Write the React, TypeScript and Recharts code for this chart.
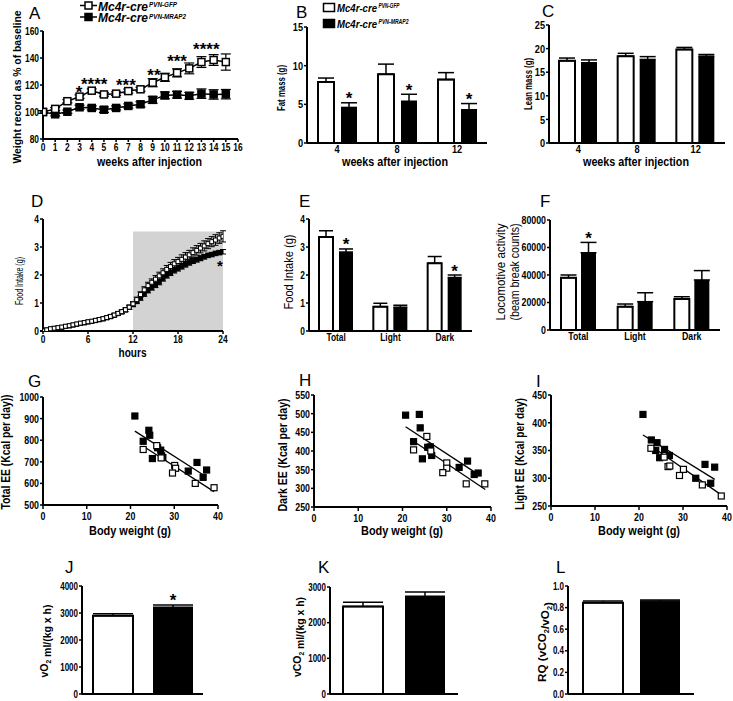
import React from 'react'
import {
  LineChart, Line, BarChart, Bar, ScatterChart, Scatter, XAxis, YAxis, ErrorBar,
  ReferenceArea, ReferenceLine, ReferenceDot,
} from 'recharts'

const SANS = '"Liberation Sans", Arial, sans-serif'

// ---- A: body weight (% of baseline)
const WEEKS = [0, 1, 2, 3, 4, 5, 6, 7, 8, 9, 10, 11, 12, 13, 14, 15]
const WEEK_TICKS = [0, 1, 2, 3, 4, 5, 6, 7, 8, 9, 10, 11, 12, 13, 14, 15, 16]
const WT_TICKS = [80, 100, 120, 140, 160]
const WT_GFP = [100, 102.3, 108, 111.4, 115.8, 113, 113.6, 115.5, 116.8, 121.7, 125.7, 129, 132.3, 137, 138.5, 137]
const WT_GFP_SEM = [1, 1, 1.2, 1.3, 1.3, 1.3, 1.3, 1.5, 1.5, 3, 3, 3, 4, 4, 4, 6]
const WT_MRAP2 = [100, 98.3, 100.2, 103.5, 103, 101.7, 103, 104.5, 105.7, 109, 112.3, 112.8, 112, 113.6, 113, 113.2]
const WT_MRAP2_SEM = [1, 1.2, 1.2, 1.5, 1.5, 2, 1.5, 1.5, 2, 2.5, 2.5, 2.5, 2.5, 3.5, 3.5, 3.5]
const WT_STARS = [
  { week: 2.95, y: 117.8, text: '*' },
  { week: 4.2, y: 123.7, text: '****' },
  { week: 6.8, y: 123, text: '***' },
  { week: 9.1, y: 130.4, text: '**' },
  { week: 11.0, y: 140.7, text: '***' },
  { week: 13.4, y: 149.6, text: '****' },
]

// ---- B / C: body composition
const WEEK_CATS = ['4', '8', '12']
const FAT_GFP = [7.9, 8.9, 8.2]
const FAT_GFP_SEM = [0.5, 1.3, 0.9]
const FAT_MRAP2 = [4.6, 5.4, 4.3]
const FAT_MRAP2_SEM = [0.6, 0.9, 0.8]
const FAT_SIG = ['*', '*', '*']
const LEAN_GFP = [17.4, 18.4, 19.8]
const LEAN_GFP_SEM = [0.6, 0.6, 0.45]
const LEAN_MRAP2 = [17.0, 17.7, 18.4]
const LEAN_MRAP2_SEM = [0.6, 0.6, 0.35]
const LEAN_SIG = ['', '', '']

// ---- D: cumulative food intake
const HOURS = [0, 0.5, 1, 1.5, 2, 2.5, 3, 3.5, 4, 4.5, 5, 5.5, 6, 6.5, 7, 7.5, 8, 8.5, 9, 9.5, 10, 10.5, 11, 11.5,
  12, 12.5, 13, 13.5, 14, 14.5, 15, 15.5, 16, 16.5, 17, 17.5, 18, 18.5, 19, 19.5, 20, 20.5, 21, 21.5, 22, 22.5, 23, 23.5, 24]
const FI_GFP = [0, 0.04, 0.08, 0.1, 0.12, 0.14, 0.17, 0.19, 0.22, 0.25, 0.28, 0.3, 0.33, 0.35, 0.38, 0.41, 0.44, 0.48, 0.52, 0.57, 0.63, 0.69, 0.76, 0.85,
  0.97, 1.12, 1.3, 1.47, 1.62, 1.74, 1.85, 1.97, 2.08, 2.2, 2.3, 2.4, 2.48, 2.56, 2.64, 2.72, 2.8, 2.88, 2.96, 3.04, 3.12, 3.19, 3.25, 3.32, 3.38]
const FI_GFP_SEM = [0.01, 0.02, 0.02, 0.02, 0.02, 0.03, 0.03, 0.03, 0.03, 0.03, 0.04, 0.04, 0.04, 0.04, 0.05, 0.05, 0.05, 0.05, 0.06, 0.06, 0.06, 0.07, 0.07, 0.08,
  0.08, 0.09, 0.1, 0.11, 0.12, 0.12, 0.13, 0.13, 0.14, 0.14, 0.15, 0.15, 0.15, 0.16, 0.16, 0.16, 0.17, 0.17, 0.17, 0.18, 0.18, 0.18, 0.19, 0.19, 0.2]
const FI_MRAP2 = [0, 0.04, 0.07, 0.09, 0.11, 0.13, 0.16, 0.18, 0.21, 0.24, 0.27, 0.29, 0.32, 0.34, 0.37, 0.4, 0.43, 0.47, 0.51, 0.56, 0.62, 0.68, 0.75, 0.84,
  0.94, 1.05, 1.18, 1.32, 1.45, 1.55, 1.64, 1.75, 1.88, 1.99, 2.08, 2.17, 2.24, 2.31, 2.38, 2.44, 2.5, 2.55, 2.6, 2.65, 2.7, 2.73, 2.77, 2.8, 2.83]
const FI_MRAP2_SEM = [0.01, 0.01, 0.02, 0.02, 0.02, 0.02, 0.02, 0.03, 0.03, 0.03, 0.03, 0.03, 0.04, 0.04, 0.04, 0.04, 0.04, 0.05, 0.05, 0.05, 0.05, 0.06, 0.06, 0.06,
  0.07, 0.07, 0.08, 0.08, 0.09, 0.09, 0.09, 0.1, 0.1, 0.1, 0.1, 0.1, 0.1, 0.1, 0.1, 0.09, 0.09, 0.09, 0.09, 0.08, 0.08, 0.08, 0.08, 0.08, 0.08]
const DARK_PHASE = { from: 12, to: 24, top: 3.55 }

// ---- E / F: intake and activity by phase
const PHASES = ['Total', 'Light', 'Dark']
const INT_GFP = [3.36, 0.87, 2.42]
const INT_GFP_SEM = [0.22, 0.12, 0.24]
const INT_MRAP2 = [2.82, 0.85, 1.91]
const INT_MRAP2_SEM = [0.11, 0.07, 0.09]
const INT_SIG = ['*', '', '*']
const LOC_GFP = [38000, 17000, 22500]
const LOC_GFP_SEM = [2000, 1900, 1700]
const LOC_MRAP2 = [56200, 20600, 36400]
const LOC_MRAP2_SEM = [7500, 6500, 6800]
const LOC_SIG = ['*', '', '']

// ---- G / H / I: energy expenditure vs body weight
const G_MRAP2_BW = [21.0, 22.9, 24.2, 24.4, 25.0, 26.2, 26.9, 27.1, 27.4, 33.2, 35.2, 36.6, 37.4]
const G_MRAP2_EE = [912, 795, 846, 823, 715, 765, 754, 728, 720, 657, 697, 628, 662]
const G_GFP_BW = [22.9, 26.0, 27.0, 30.1, 30.3, 29.6, 34.8, 39.1]
const G_GFP_EE = [757, 775, 718, 683, 670, 648, 600, 580]
const G_FIT_MRAP2 = [{ x: 21, y: 842 }, { x: 37.3, y: 631 }]
const G_FIT_GFP = [{ x: 22.9, y: 772 }, { x: 39.1, y: 562 }]

const H_MRAP2_BW = [20.7, 23.8, 24.0, 22.5, 24.5, 25.7, 26.3, 26.6, 32.8, 34.7, 36.2, 37.1]
const H_MRAP2_EE = [496, 498, 462, 425, 379, 410, 411, 388, 356, 373, 337, 341]
const H_GFP_BW = [22.5, 25.5, 26.4, 30.0, 30.0, 29.1, 34.4, 38.6]
const H_GFP_EE = [403, 439, 400, 368, 354, 342, 312, 312]
const H_FIT_MRAP2 = [{ x: 20.7, y: 465 }, { x: 37, y: 338 }]
const H_FIT_GFP = [{ x: 22.5, y: 426 }, { x: 38.7, y: 297 }]

const I_MRAP2_BW = [20.9, 22.8, 24.1, 23.8, 24.7, 25.8, 26.9, 32.9, 35.0, 36.3, 37.2]
const I_MRAP2_EE = [415, 369, 364, 350, 337, 352, 341, 300, 325, 291, 320]
const I_GFP_BW = [22.7, 25.7, 26.6, 27.0, 29.2, 30.1, 34.4, 38.7]
const I_GFP_EE = [354, 338, 321, 322, 305, 316, 288, 268]
const I_FIT_MRAP2 = [{ x: 20.9, y: 378 }, { x: 37.2, y: 298 }]
const I_FIT_GFP = [{ x: 22.7, y: 358 }, { x: 38.7, y: 270 }]

// ---- J / K / L: gas exchange
const ONE_CAT = ['']
const VO2_GFP = [2900], VO2_GFP_SEM = [75], VO2_MRAP2 = [3215], VO2_MRAP2_SEM = [85], VO2_SIG = ['*']
const VCO2_GFP = [2450], VCO2_GFP_SEM = [120], VCO2_MRAP2 = [2740], VCO2_MRAP2_SEM = [120], VCO2_SIG = ['']
const RQ_GFP = [0.845], RQ_GFP_SEM = [0.015], RQ_MRAP2 = [0.86], RQ_MRAP2_SEM = [0.01], RQ_SIG = ['']

type Box = { x0: number; y0: number; x1: number; y1: number }
const PL = 60, PT = 14, PR = 12

function frame(b: Box, pb: number) {
  return {
    left: b.x0 - PL,
    top: b.y0 - PT,
    width: b.x1 - b.x0 + PL + PR,
    height: b.y1 - b.y0 + PT + pb,
    margin: { top: PT, right: PR, left: 0, bottom: 0 },
  }
}

const AXIS = { stroke: '#000', strokeWidth: 2 }
const TICKLINE = { stroke: '#000', strokeWidth: 1.5 }

// bold Arial squeezed sideways, like the condensed type of the figure
const narrowTick = (size: number, fmt?: (v: any) => string) => (p: any) => {
  const { x, y, payload, textAnchor, verticalAnchor } = p
  const v = payload?.value
  const label = fmt ? fmt(v) : String(v)
  const by = verticalAnchor === 'start' ? y + size * 0.72 : verticalAnchor === 'end' ? y : y + size * 0.36
  return (
    <text transform={`translate(${x},${by}) scale(0.8,1)`} textAnchor={textAnchor} fontSize={size}
      fontWeight={700} fontFamily={SANS} fill="#000">{label}</text>
  )
}

const square = (fill: string, s: number, sw: number) => (p: any) =>
  p.cx == null || p.cy == null ? <g key={`n${p.index}`} /> : (
    <rect key={`s${p.index}`} x={p.cx - s / 2} y={p.cy - s / 2} width={s} height={s}
      fill={fill} stroke="#000" strokeWidth={sw} />
  )

const starMark = (text: string, fs: number) => (p: any) => (
  <text x={p.cx} y={p.cy + fs * 0.58} textAnchor="middle" fontSize={fs} fontWeight={700}
    fontFamily={SANS} fill="#000">{text}</text>
)

function WeightPanel({ box }: { box: Box }) {
  const f = frame(box, 20)
  const data = WEEKS.map((w, i) => ({
    week: w, gfp: WT_GFP[i], gfpSem: WT_GFP_SEM[i], mrap2: WT_MRAP2[i], mrap2Sem: WT_MRAP2_SEM[i],
  }))
  return (
    <div style={{ position: 'absolute', left: f.left, top: f.top }}>
      <LineChart width={f.width} height={f.height} data={data} margin={f.margin}>
        <XAxis type="number" dataKey="week" domain={[0, 16]} ticks={WEEK_TICKS} interval={0} height={20}
          axisLine={AXIS} tickLine={TICKLINE} tickSize={3} tickMargin={1} tick={narrowTick(10.5)} allowDataOverflow />
        <YAxis type="number" domain={[80, 160]} ticks={WT_TICKS} width={PL} interval={0}
          axisLine={AXIS} tickLine={TICKLINE} tickSize={3} tickMargin={1} tick={narrowTick(10.5)} allowDataOverflow />
        <Line dataKey="mrap2" stroke="#000" strokeWidth={1.5} dot={square('#000', 7, 1.5)} isAnimationActive={false}>
          <ErrorBar dataKey="mrap2Sem" width={5} stroke="#000" strokeWidth={1.2} />
        </Line>
        <Line dataKey="gfp" stroke="#000" strokeWidth={1.5} dot={square('#fff', 7, 1.5)} isAnimationActive={false}>
          <ErrorBar dataKey="gfpSem" width={5} stroke="#000" strokeWidth={1.2} />
        </Line>
        {WT_STARS.map((s, i) => (
          <ReferenceDot key={i} x={s.week} y={s.y} r={0} shape={starMark(s.text, 17)} />
        ))}
      </LineChart>
    </div>
  )
}

function IntakePanel({ box }: { box: Box }) {
  const f = frame(box, 20)
  const data = HOURS.map((h, i) => ({
    h, gfp: FI_GFP[i], gfpSem: FI_GFP_SEM[i], mrap2: FI_MRAP2[i], mrap2Sem: FI_MRAP2_SEM[i],
  }))
  return (
    <div style={{ position: 'absolute', left: f.left, top: f.top }}>
      <LineChart width={f.width} height={f.height} data={data} margin={f.margin}>
        <XAxis type="number" dataKey="h" domain={[0, 24]} ticks={[0, 6, 12, 18, 24]} interval={0} height={20}
          axisLine={AXIS} tickLine={TICKLINE} tickSize={3} tickMargin={1} tick={narrowTick(10.5)} allowDataOverflow />
        <YAxis type="number" domain={[0, 4]} ticks={[0, 1, 2, 3, 4]} width={PL} interval={0}
          axisLine={AXIS} tickLine={TICKLINE} tickSize={3} tickMargin={1} tick={narrowTick(10.5)} allowDataOverflow />
        <ReferenceArea x1={DARK_PHASE.from} x2={DARK_PHASE.to} y1={0} y2={DARK_PHASE.top}
          fill="#d3d3d3" fillOpacity={1} stroke="none" />
        <Line dataKey="mrap2" stroke="#000" strokeWidth={1} dot={square('#000', 4, 1)} isAnimationActive={false}>
          <ErrorBar dataKey="mrap2Sem" width={3} stroke="#000" strokeWidth={1} />
        </Line>
        <Line dataKey="gfp" stroke="#000" strokeWidth={1} dot={square('#fff', 4, 1)} isAnimationActive={false}>
          <ErrorBar dataKey="gfpSem" width={3} stroke="#000" strokeWidth={1} />
        </Line>
        <ReferenceDot x={23.6} y={2.46} r={0} shape={starMark('*', 15)} />
      </LineChart>
    </div>
  )
}

type BarSpec = {
  box: Box; cats: string[]; gfp: number[]; gfpSem: number[]; mrap2: number[]; mrap2Sem: number[]; sig: string[]
  domain: [number, number]; ticks: number[]; barSize: number; barGap: number; font: number
  showCats?: boolean; fmt?: (v: number) => string
}

const blackBar = (p: any) => {
  const { x, y, width, height, payload } = p
  const unit = payload.mrap2 ? height / payload.mrap2 : 0
  const top = y - payload.mrap2Sem[1] * unit
  return (
    <g>
      <rect x={x} y={y} width={width} height={height} fill="#000" />
      {payload.sig ? (
        <text x={x + width / 2} y={top + 1.5} textAnchor="middle" fontSize={17} fontWeight={700}
          fontFamily={SANS} fill="#000">{payload.sig}</text>
      ) : null}
    </g>
  )
}

function BarPanel(s: BarSpec) {
  const noCats = s.showCats === false
  const f = frame(s.box, noCats ? 12 : 20)
  const data = s.cats.map((c, i) => ({
    cat: c, gfp: s.gfp[i], gfpSem: [0, s.gfpSem[i]], mrap2: s.mrap2[i], mrap2Sem: [0, s.mrap2Sem[i]], sig: s.sig[i],
  }))
  const cap = Math.round(s.barSize * 0.5)
  return (
    <div style={{ position: 'absolute', left: f.left, top: f.top }}>
      <BarChart width={f.width} height={f.height} data={data} margin={f.margin} barSize={s.barSize} barGap={s.barGap}>
        <XAxis dataKey="cat" height={noCats ? 12 : 20} interval={0} axisLine={AXIS} tickLine={false} tickSize={2} tickMargin={0}
          tick={noCats ? false : narrowTick(s.font)} />
        <YAxis type="number" domain={s.domain} ticks={s.ticks} width={PL} interval={0} allowDataOverflow
          axisLine={AXIS} tickLine={TICKLINE} tickSize={3} tickMargin={1} tick={narrowTick(s.font, s.fmt)} />
        <Bar dataKey="gfp" fill="#fff" stroke="#000" strokeWidth={2} isAnimationActive={false}>
          <ErrorBar dataKey="gfpSem" width={cap} stroke="#000" strokeWidth={1.5} />
        </Bar>
        <Bar dataKey="mrap2" fill="#000" shape={blackBar} isAnimationActive={false}>
          <ErrorBar dataKey="mrap2Sem" width={cap} stroke="#000" strokeWidth={1.5} />
        </Bar>
      </BarChart>
    </div>
  )
}

type ScatterSpec = {
  box: Box; gfpX: number[]; gfpY: number[]; mrap2X: number[]; mrap2Y: number[]
  fitGfp: { x: number; y: number }[]; fitMrap2: { x: number; y: number }[]
  domain: [number, number]; ticks: number[]
}

function ScatterPanel(s: ScatterSpec) {
  const f = frame(s.box, 20)
  const gfp = s.gfpX.map((x, i) => ({ x, y: s.gfpY[i] }))
  const mrap2 = s.mrap2X.map((x, i) => ({ x, y: s.mrap2Y[i] }))
  const sq = (fill: string) => (p: any) => (
    <rect x={p.cx - 3} y={p.cy - 3} width={6} height={6} fill={fill} stroke="#000" strokeWidth={1.2} />
  )
  return (
    <div style={{ position: 'absolute', left: f.left, top: f.top }}>
      <ScatterChart width={f.width} height={f.height} margin={f.margin}>
        <XAxis type="number" dataKey="x" domain={[0, 40]} ticks={[0, 10, 20, 30, 40]} interval={0} height={20}
          axisLine={AXIS} tickLine={TICKLINE} tickSize={4} tickMargin={3} tick={narrowTick(11)} allowDataOverflow />
        <YAxis type="number" dataKey="y" domain={s.domain} ticks={s.ticks} width={PL} interval={0}
          axisLine={AXIS} tickLine={TICKLINE} tickSize={3} tickMargin={1} tick={narrowTick(11)} allowDataOverflow />
        <ReferenceLine segment={s.fitMrap2} stroke="#000" strokeWidth={1.3} />
        <ReferenceLine segment={s.fitGfp} stroke="#000" strokeWidth={1.3} />
        <Scatter data={mrap2} shape={sq('#000')} isAnimationActive={false} />
        <Scatter data={gfp} shape={sq('#fff')} isAnimationActive={false} />
      </ScatterChart>
    </div>
  )
}

function HText({ x, y, len, fs, children, weight = 700, italic = false, anchor = 'middle' }: any) {
  return (
    <text x={x} y={y} textAnchor={anchor} fontSize={fs} fontWeight={weight} fontStyle={italic ? 'italic' : 'normal'}
      fontFamily={SANS} textLength={len} lengthAdjust="spacingAndGlyphs" fill="#000">{children}</text>
  )
}

function VText({ cx, cy, len, fs, children, weight = 700 }: any) {
  const bx = cx + fs * 0.36
  return (
    <text x={bx} y={cy} transform={`rotate(-90 ${bx} ${cy})`} textAnchor="middle" fontSize={fs} fontWeight={weight}
      fontFamily={SANS} textLength={len} lengthAdjust="spacingAndGlyphs" fill="#000">{children}</text>
  )
}

const LETTERS: [string, number, number][] = [
  ['A', 29, 19], ['B', 296, 18], ['C', 542, 17], ['D', 31, 207], ['E', 299, 207], ['F', 540, 207],
  ['G', 28, 387], ['H', 299, 386], ['I', 536, 387], ['J', 65, 573], ['K', 318, 573], ['L', 556, 573],
]

function Sub({ children }: any) {
  return <><tspan dy={3} fontSize={7}>{children}</tspan><tspan dy={-3}>{''}</tspan></>
}

function Overlay() {
  return (
    <svg width={733} height={701} style={{ position: 'absolute', left: 0, top: 0, pointerEvents: 'none' }}>
      {LETTERS.map(([t, x, y]) => (
        <text key={t} x={x} y={y} fontSize={17} fontFamily={SANS} fill="#000">{t}</text>
      ))}

      {/* legend A */}
      <line x1={80} y1={5.5} x2={97} y2={5.5} stroke="#000" strokeWidth={1.5} />
      <rect x={85} y={2} width={7} height={7} fill="#fff" stroke="#000" strokeWidth={1.5} />
      <HText x={98} y={10.5} len={50} fs={12.5} italic anchor="start">Mc4r-cre</HText>
      <HText x={149} y={7} len={28} fs={8} italic anchor="start">PVN-GFP</HText>
      <line x1={80} y1={17} x2={97} y2={17} stroke="#000" strokeWidth={1.5} />
      <rect x={85} y={13.5} width={7} height={7} fill="#000" stroke="#000" strokeWidth={1.5} />
      <HText x={98} y={22} len={50} fs={12.5} italic anchor="start">Mc4r-cre</HText>
      <HText x={149} y={18.5} len={37} fs={8} italic anchor="start">PVN-MRAP2</HText>

      {/* legend B */}
      <rect x={323.5} y={3.5} width={11} height={8} fill="#fff" stroke="#000" strokeWidth={1.5} />
      <HText x={337} y={11.5} len={40} fs={11} italic anchor="start">Mc4r-cre</HText>
      <HText x={378.5} y={7.5} len={21} fs={7} italic anchor="start">PVN-GFP</HText>
      <rect x={323.5} y={19.5} width={11} height={8} fill="#000" stroke="#000" strokeWidth={1.5} />
      <HText x={337} y={27.5} len={40} fs={11} italic anchor="start">Mc4r-cre</HText>
      <HText x={378.5} y={23.5} len={30} fs={7} italic anchor="start">PVN-MRAP2</HText>

      {/* x axis titles */}
      <HText x={149.5} y={166} len={105} fs={12.5}>weeks after injection</HText>
      <HText x={395} y={166} len={106} fs={12.5}>weeks after injection</HText>
      <HText x={636} y={166} len={106} fs={12.5}>weeks after injection</HText>
      <HText x={132.5} y={357} len={28} fs={12.5}>hours</HText>
      <HText x={130} y={535} len={82} fs={12.5}>Body weight (g)</HText>
      <HText x={402} y={535} len={82} fs={12.5}>Body weight (g)</HText>
      <HText x={639} y={535} len={82} fs={12.5}>Body weight (g)</HText>

      {/* y axis titles */}
      <VText cx={17} cy={87} len={153} fs={11.5}>Weight record as % of baseline</VText>
      <VText cx={281} cy={88} len={46} fs={10}>Fat mass (g)</VText>
      <VText cx={528} cy={84} len={52} fs={10.5}>Lean mass (g)</VText>
      <VText cx={19} cy={281} len={48} fs={10} weight={400}>Food Intake (g)</VText>
      <VText cx={289} cy={272} len={75} fs={12} weight={400}>Food Intake (g)</VText>
      <VText cx={501} cy={272} len={97} fs={12} weight={400}>Locomotive activity</VText>
      <VText cx={515} cy={272} len={97} fs={12} weight={400}>(beam break counts)</VText>
      <VText cx={6} cy={452} len={115} fs={12}>Total EE (Kcal per day))</VText>
      <VText cx={283} cy={455} len={113} fs={12}>Dark EE (Kcal per day)</VText>
      <VText cx={520} cy={454} len={112} fs={12}>Light EE (Kcal per day)</VText>
      <VText cx={44} cy={641} len={73} fs={11}>vO<Sub>2</Sub> ml/(kg x h)</VText>
      <VText cx={297} cy={637} len={80} fs={11}>vCO<Sub>2</Sub> ml/(kg x h)</VText>
      <VText cx={542} cy={642} len={80} fs={11}>RQ (vCO<Sub>2</Sub>/vO<Sub>2</Sub>)</VText>
    </svg>
  )
}

export default function App() {
  return (
    <div style={{ position: 'absolute', left: 0, top: 0, width: 733, height: 701, overflow: 'hidden', background: '#fff' }}>
      <WeightPanel box={{ x0: 43, y0: 31, x1: 238, y1: 139 }} />
      <BarPanel box={{ x0: 307, y0: 27, x1: 487, y1: 143 }} cats={WEEK_CATS}
        gfp={FAT_GFP} gfpSem={FAT_GFP_SEM} mrap2={FAT_MRAP2} mrap2Sem={FAT_MRAP2_SEM} sig={FAT_SIG}
        domain={[0, 15]} ticks={[0, 5, 10, 15]} barSize={16} barGap={7} font={11.5} />
      <BarPanel box={{ x0: 549, y0: 25, x1: 725, y1: 143 }} cats={WEEK_CATS}
        gfp={LEAN_GFP} gfpSem={LEAN_GFP_SEM} mrap2={LEAN_MRAP2} mrap2Sem={LEAN_MRAP2_SEM} sig={LEAN_SIG}
        domain={[0, 25]} ticks={[0, 5, 10, 15, 20, 25]} barSize={16} barGap={6} font={11.5} />

      <IntakePanel box={{ x0: 43, y0: 219, x1: 223, y1: 331 }} />
      <BarPanel box={{ x0: 309, y0: 219, x1: 472, y1: 331 }} cats={PHASES}
        gfp={INT_GFP} gfpSem={INT_GFP_SEM} mrap2={INT_MRAP2} mrap2Sem={INT_MRAP2_SEM} sig={INT_SIG}
        domain={[0, 4]} ticks={[0, 1, 2, 3, 4]} barSize={14} barGap={6} font={10.5} />
      <BarPanel box={{ x0: 550, y0: 220, x1: 720, y1: 330 }} cats={PHASES}
        gfp={LOC_GFP} gfpSem={LOC_GFP_SEM} mrap2={LOC_MRAP2} mrap2Sem={LOC_MRAP2_SEM} sig={LOC_SIG}
        domain={[0, 80000]} ticks={[0, 20000, 40000, 60000, 80000]} barSize={15} barGap={5} font={11} />

      <ScatterPanel box={{ x0: 43, y0: 397, x1: 218, y1: 505 }}
        gfpX={G_GFP_BW} gfpY={G_GFP_EE} mrap2X={G_MRAP2_BW} mrap2Y={G_MRAP2_EE}
        fitGfp={G_FIT_GFP} fitMrap2={G_FIT_MRAP2}
        domain={[500, 1000]} ticks={[500, 600, 700, 800, 900, 1000]} />
      <ScatterPanel box={{ x0: 314, y0: 395, x1: 491, y1: 507 }}
        gfpX={H_GFP_BW} gfpY={H_GFP_EE} mrap2X={H_MRAP2_BW} mrap2Y={H_MRAP2_EE}
        fitGfp={H_FIT_GFP} fitMrap2={H_FIT_MRAP2}
        domain={[250, 550]} ticks={[250, 300, 350, 400, 450, 500, 550]} />
      <ScatterPanel box={{ x0: 551, y0: 395, x1: 727, y1: 506 }}
        gfpX={I_GFP_BW} gfpY={I_GFP_EE} mrap2X={I_MRAP2_BW} mrap2Y={I_MRAP2_EE}
        fitGfp={I_FIT_GFP} fitMrap2={I_FIT_MRAP2}
        domain={[250, 450]} ticks={[250, 300, 350, 400, 450]} />

      <BarPanel box={{ x0: 82, y0: 586, x1: 203, y1: 694 }} cats={ONE_CAT} showCats={false}
        gfp={VO2_GFP} gfpSem={VO2_GFP_SEM} mrap2={VO2_MRAP2} mrap2Sem={VO2_MRAP2_SEM} sig={VO2_SIG}
        domain={[0, 4000]} ticks={[0, 1000, 2000, 3000, 4000]} barSize={40} barGap={20} font={10} />
      <BarPanel box={{ x0: 330, y0: 587, x1: 458, y1: 694 }} cats={ONE_CAT} showCats={false}
        gfp={VCO2_GFP} gfpSem={VCO2_GFP_SEM} mrap2={VCO2_MRAP2} mrap2Sem={VCO2_MRAP2_SEM} sig={VCO2_SIG}
        domain={[0, 3000]} ticks={[0, 1000, 2000, 3000]} barSize={40} barGap={22} font={10} />
      <BarPanel box={{ x0: 568, y0: 586, x1: 694, y1: 694 }} cats={ONE_CAT} showCats={false}
        gfp={RQ_GFP} gfpSem={RQ_GFP_SEM} mrap2={RQ_MRAP2} mrap2Sem={RQ_MRAP2_SEM} sig={RQ_SIG}
        domain={[0, 1]} ticks={[0, 0.2, 0.4, 0.6, 0.8, 1]} barSize={40} barGap={17} font={10}
        fmt={(v: number) => v.toFixed(1)} />

      <Overlay />
    </div>
  )
}
